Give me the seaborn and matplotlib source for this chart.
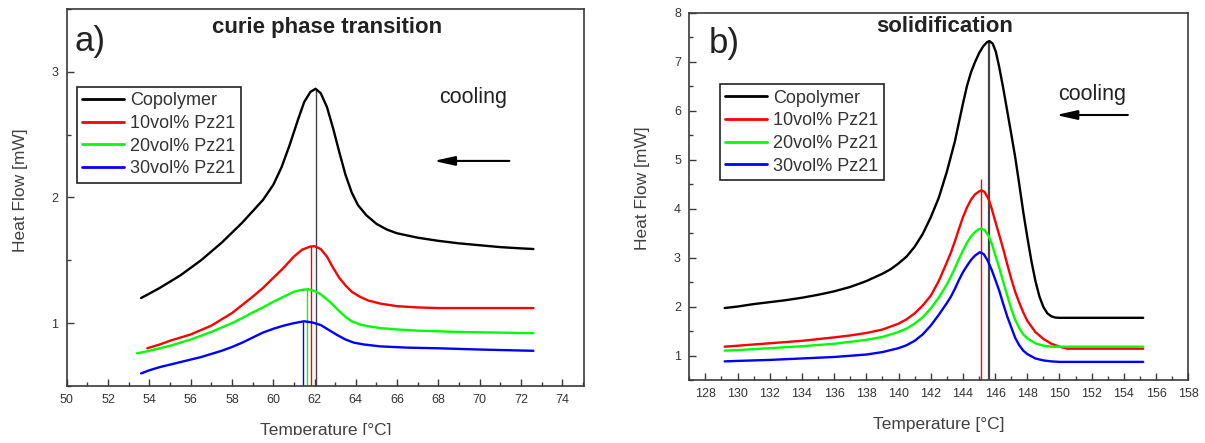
import numpy as np
import pandas as pd
import matplotlib
matplotlib.use("Agg")
import matplotlib.pyplot as plt
import seaborn as sns
from matplotlib.patches import Rectangle
from matplotlib.ticker import MultipleLocator

# ---------------- data ----------------
series_names = ["Copolymer", "10vol% Pz21", "20vol% Pz21", "30vol% Pz21"]
series_colors = ["#000000", "#ff0000", "#00ff00", "#0000ff"]

# panel a: curie phase transition
a_cop_t = [53.6, 54.0, 54.5, 55.0, 55.5, 56.0, 56.5, 57.0, 57.5, 58.0, 58.5, 59.0, 59.5, 60.0,
           60.4, 60.8, 61.2, 61.5, 61.8, 62.05, 62.3, 62.6, 62.9, 63.2, 63.5, 63.8, 64.1, 64.5,
           65.0, 65.5, 66.0, 67.0, 68.0, 69.0, 70.0, 71.0, 72.0, 72.6]
a_cop_q = [1.20, 1.235, 1.28, 1.33, 1.38, 1.44, 1.50, 1.57, 1.64, 1.72, 1.80, 1.89, 1.98, 2.10,
           2.24, 2.42, 2.62, 2.76, 2.84, 2.865, 2.83, 2.72, 2.55, 2.36, 2.18, 2.04, 1.94, 1.86,
           1.79, 1.745, 1.715, 1.68, 1.655, 1.635, 1.62, 1.605, 1.595, 1.59]
a_p10_t = [53.9, 54.5, 55.0, 55.5, 56.0, 56.5, 57.0, 57.5, 58.0, 58.5, 59.0, 59.5, 60.0, 60.5,
           61.0, 61.4, 61.8, 62.0, 62.3, 62.6, 62.9, 63.2, 63.5, 63.8, 64.2, 64.6, 65.2, 66.0,
           67.0, 68.0, 72.6]
a_p10_q = [0.80, 0.83, 0.86, 0.885, 0.91, 0.945, 0.98, 1.03, 1.08, 1.145, 1.21, 1.28, 1.36, 1.44,
           1.53, 1.585, 1.61, 1.612, 1.59, 1.53, 1.44, 1.36, 1.30, 1.25, 1.21, 1.18, 1.155, 1.135,
           1.125, 1.12, 1.12]
a_p20_t = [53.4, 54.0, 54.5, 55.0, 55.5, 56.0, 56.5, 57.0, 57.5, 58.0, 58.5, 59.0, 59.5, 60.0,
           60.5, 61.0, 61.4, 61.7, 62.0, 62.3, 62.6, 62.9, 63.2, 63.5, 63.8, 64.2, 64.6, 65.2,
           66.0, 67.0, 69.0, 72.6]
a_p20_q = [0.76, 0.78, 0.80, 0.82, 0.845, 0.87, 0.90, 0.93, 0.965, 1.00, 1.04, 1.085, 1.125, 1.17,
           1.21, 1.25, 1.265, 1.27, 1.255, 1.23, 1.19, 1.145, 1.095, 1.05, 1.015, 0.99, 0.975,
           0.96, 0.95, 0.94, 0.93, 0.92]
a_p30_t = [53.6, 54.0, 54.5, 55.0, 55.5, 56.0, 56.5, 57.0, 57.5, 58.0, 58.5, 59.0, 59.5, 60.0,
           60.5, 61.0, 61.5, 61.9, 62.3, 62.7, 63.1, 63.5, 63.9, 64.4, 65.2, 66.5, 68.0, 70.0, 72.6]
a_p30_q = [0.60, 0.625, 0.65, 0.67, 0.69, 0.71, 0.73, 0.755, 0.78, 0.81, 0.845, 0.885, 0.925,
           0.955, 0.98, 1.00, 1.015, 1.005, 0.985, 0.945, 0.905, 0.87, 0.845, 0.83, 0.815, 0.805,
           0.80, 0.79, 0.78]
a_peak_t = [62.07, 61.83, 61.63, 61.42]
a_peak_q = [2.86, 1.61, 1.27, 1.01]

# panel b: solidification
b_cop_t = [129.2, 130, 131, 132, 133, 134, 135, 136, 137, 138, 139, 139.5, 140, 140.5, 141,
           141.5, 142, 142.5, 143, 143.5, 144, 144.25, 144.5, 144.75, 145, 145.25, 145.5, 145.65,
           145.85, 146.05, 146.25, 146.5, 146.75, 147, 147.25, 147.5, 147.75, 148, 148.25,
           148.5, 148.75, 149, 149.25, 149.5, 149.75, 150, 155.2]
b_cop_q = [1.97, 2.00, 2.05, 2.09, 2.13, 2.18, 2.24, 2.31, 2.40, 2.52, 2.67, 2.76, 2.88, 3.02,
           3.22, 3.48, 3.82, 4.22, 4.75, 5.37, 6.14, 6.50, 6.78, 6.99, 7.17, 7.31, 7.40, 7.42,
           7.37, 7.20, 6.90, 6.47, 6.00, 5.53, 5.05, 4.50, 3.93, 3.42, 2.94, 2.53, 2.21, 1.99,
           1.86, 1.80, 1.775, 1.77, 1.77]
b_p10_t = [129.2, 130, 132, 134, 136, 137, 138, 139, 140, 140.5, 141, 141.5, 142, 142.5, 143,
           143.25, 143.5, 143.75, 144, 144.25, 144.5, 144.75, 145.0, 145.15, 145.35, 145.6,
           145.8, 146.0, 146.25, 146.5, 146.75, 147, 147.25, 147.5, 147.75, 148, 148.5, 149,
           149.5, 150, 150.5, 155.2]
b_p10_q = [1.18, 1.20, 1.25, 1.30, 1.37, 1.41, 1.46, 1.53, 1.65, 1.74, 1.86, 2.02, 2.22, 2.52,
           2.90, 3.10, 3.33, 3.58, 3.82, 4.02, 4.18, 4.29, 4.35, 4.37, 4.34, 4.19, 3.99, 3.75,
           3.47, 3.18, 2.87, 2.57, 2.30, 2.08, 1.88, 1.71, 1.48, 1.34, 1.24, 1.18, 1.14, 1.14]
b_p20_t = [129.2, 130, 132, 134, 136, 137, 138, 139, 140, 140.5, 141, 141.5, 142, 142.5, 143,
           143.25, 143.5, 143.75, 144, 144.25, 144.5, 144.75, 145.0, 145.15, 145.35, 145.6,
           145.8, 146.0, 146.25, 146.5, 146.75, 147, 147.25, 147.5, 147.75, 148, 148.5, 149,
           149.5, 155.2]
b_p20_q = [1.10, 1.11, 1.15, 1.19, 1.24, 1.28, 1.32, 1.38, 1.48, 1.55, 1.65, 1.78, 1.96, 2.18,
           2.45, 2.61, 2.78, 2.97, 3.14, 3.30, 3.43, 3.52, 3.58, 3.59, 3.56, 3.44, 3.28, 3.06,
           2.80, 2.51, 2.23, 1.96, 1.73, 1.56, 1.43, 1.35, 1.25, 1.20, 1.18, 1.18]
b_p30_t = [129.2, 130, 132, 134, 136, 138, 139, 140, 140.5, 141, 141.5, 142, 142.5, 143,
           143.25, 143.5, 143.75, 144, 144.25, 144.5, 144.75, 145.05, 145.3, 145.55, 145.8,
           146.0, 146.25, 146.5, 146.75, 147, 147.25, 147.5, 147.75, 148, 148.5, 149, 149.5,
           150, 155.2]
b_p30_q = [0.88, 0.89, 0.91, 0.94, 0.97, 1.02, 1.07, 1.15, 1.21, 1.30, 1.43, 1.61, 1.83, 2.07,
           2.20, 2.36, 2.54, 2.70, 2.83, 2.95, 3.04, 3.11, 3.07, 2.93, 2.74, 2.56, 2.33, 2.06,
           1.80, 1.58, 1.36, 1.21, 1.10, 1.03, 0.94, 0.90, 0.88, 0.87, 0.87]
b_peak_t = [145.62, 145.15]
b_peak_q = [7.41, 4.60]
b_peak_colors = ["#000000", "#ff0000"]

# tick labels
a_xticks = list(range(50, 75, 2))
a_yticks = [1, 2, 3]
b_xticks = list(range(128, 159, 2))
b_yticks = list(range(1, 9))

# ---------------- style ----------------
sns.set_style("white")
plt.rcParams["font.family"] = ["Liberation Sans", "DejaVu Sans"]
plt.rcParams["axes.linewidth"] = 1.2

fig = plt.figure(figsize=(12.05, 4.43), dpi=100)
ax_a = fig.add_axes([0.0554, 0.1287, 0.4296, 0.8510])
ax_b = fig.add_axes([0.5720, 0.1422, 0.4141, 0.8291])

def long_df(ts, qs):
    rows = []
    for name, t, q in zip(series_names, ts, qs):
        rows.append(pd.DataFrame({"T": t, "Q": q, "series": name}))
    return pd.concat(rows, ignore_index=True)

df_a = long_df([a_cop_t, a_p10_t, a_p20_t, a_p30_t], [a_cop_q, a_p10_q, a_p20_q, a_p30_q])
df_b = long_df([b_cop_t, b_p10_t, b_p20_t, b_p30_t], [b_cop_q, b_p10_q, b_p20_q, b_p30_q])
pal = dict(zip(series_names, series_colors))

spine_col = "#3a3a3a"
tick_col = "#333333"
label_col = "#404040"

for ax, df, xlim, ylim, xt, yt in [
    (ax_a, df_a, (50, 75.07), (0.5, 3.5), a_xticks, a_yticks),
    (ax_b, df_b, (127, 158.0), (0.5, 8.0), b_xticks, b_yticks),
]:
    sns.lineplot(data=df, x="T", y="Q", hue="series", hue_order=series_names,
                 palette=pal, linewidth=1.7, ax=ax, sort=True, estimator=None)
    ax.set_xlim(*xlim)
    ax.set_ylim(*ylim)
    ax.set_xticks(xt)
    ax.set_yticks(yt)
    ax.xaxis.set_minor_locator(MultipleLocator(1))
    ax.yaxis.set_minor_locator(MultipleLocator(0.5))
    ax.tick_params(axis="both", which="major", direction="in", length=5, width=1.0,
                   colors=spine_col, labelcolor=tick_col, labelsize=9, pad=6,
                   bottom=True, left=True, top=False, right=False)
    ax.tick_params(axis="both", which="minor", direction="in", length=3, width=1.0,
                   colors=spine_col, bottom=True, left=True, top=False, right=False)
    for s in ax.spines.values():
        s.set_color(spine_col)
        s.set_linewidth(1.2)
        s.set_visible(True)
    ax.set_xlabel("Temperature [°C]", fontsize=12.5, color=label_col)
    ax.set_ylabel("Heat Flow [mW]", fontsize=12.5, color=label_col)
    if ax.get_legend() is not None:
        ax.get_legend().remove()

# vertical peak markers
for x, top, c in zip(a_peak_t, a_peak_q, series_colors):
    ax_a.vlines(x, 0.5, top, colors=("#444444" if c == "#000000" else c), linewidth=1.0, zorder=1)
for x, top, c in zip(b_peak_t, b_peak_q, b_peak_colors):
    ax_b.vlines(x, 0.5, top, colors=("#444444" if c == "#000000" else c),
                linewidth=(1.6 if c == "#000000" else 1.0), zorder=1)

# axis label positions
ax_a.xaxis.set_label_coords(0.4995, -0.098)
ax_b.xaxis.set_label_coords(0.499, -0.100)
ax_a.yaxis.set_label_coords(-0.075, 0.52)
ax_b.yaxis.set_label_coords(-0.078, 0.523)

# legends
for ax, anchor in [(ax_a, (77 / 1205, 1 - 87 / 443)), (ax_b, (719.6 / 1205, 1 - 84.3 / 443))]:
    h, l = ax.get_legend_handles_labels()
    leg = ax.legend(h, l, loc="upper left", bbox_to_anchor=anchor, bbox_transform=fig.transFigure,
                    fontsize=13, frameon=True, fancybox=False, shadow=False, framealpha=1,
                    edgecolor="#222222", borderpad=0.3, labelspacing=0.31, handlelength=2.3,
                    handletextpad=0.35, borderaxespad=0)
    leg.get_frame().set_linewidth(1.2)
    for t in leg.get_texts():
        t.set_color("#333333")
    for ln in leg.get_lines():
        ln.set_linewidth(2.0)

# titles / annotations
ax_a.text(0.0448, 0.915, "a)", transform=ax_a.transAxes, fontsize=25, ha="center", va="center",
          color="#222222")
ax_b.text(0.0695, 0.915, "b)", transform=ax_b.transAxes, fontsize=25, ha="center", va="center",
          color="#222222")
ax_a.text(0.5036, 0.9496, "curie phase transition", transform=ax_a.transAxes, fontsize=16,
          fontweight="bold", ha="center", va="center", color="#222222")
ax_b.text(0.5116, 0.9638, "solidification", transform=ax_b.transAxes, fontsize=16,
          fontweight="bold", ha="center", va="center", color="#222222")
ax_a.text(0.785, 0.764, "cooling", transform=ax_a.transAxes, fontsize=15.5, ha="center",
          va="center", color="#222222")
ax_b.text(0.807, 0.776, "cooling", transform=ax_b.transAxes, fontsize=15.5, ha="center",
          va="center", color="#222222")
arrow_kw = dict(arrowstyle="-|>,head_length=0.9,head_width=0.2", color="black", lw=1.5,
                mutation_scale=14, shrinkA=0, shrinkB=0)
ax_a.annotate("", xy=(0.709, 0.597), xytext=(0.855, 0.597), xycoords="axes fraction",
              textcoords="axes fraction", arrowprops=arrow_kw)
ax_b.annotate("", xy=(0.735, 0.7215), xytext=(0.879, 0.7215), xycoords="axes fraction",
              textcoords="axes fraction", arrowprops=arrow_kw)

# the left panel's axis title is cropped at the bottom in the original
fig.patches.append(Rectangle((0, 0), 600 / 1205, 8 / 443, transform=fig.transFigure,
                             facecolor="white", edgecolor="none", zorder=10))

fig.savefig("out.png", dpi=100)
